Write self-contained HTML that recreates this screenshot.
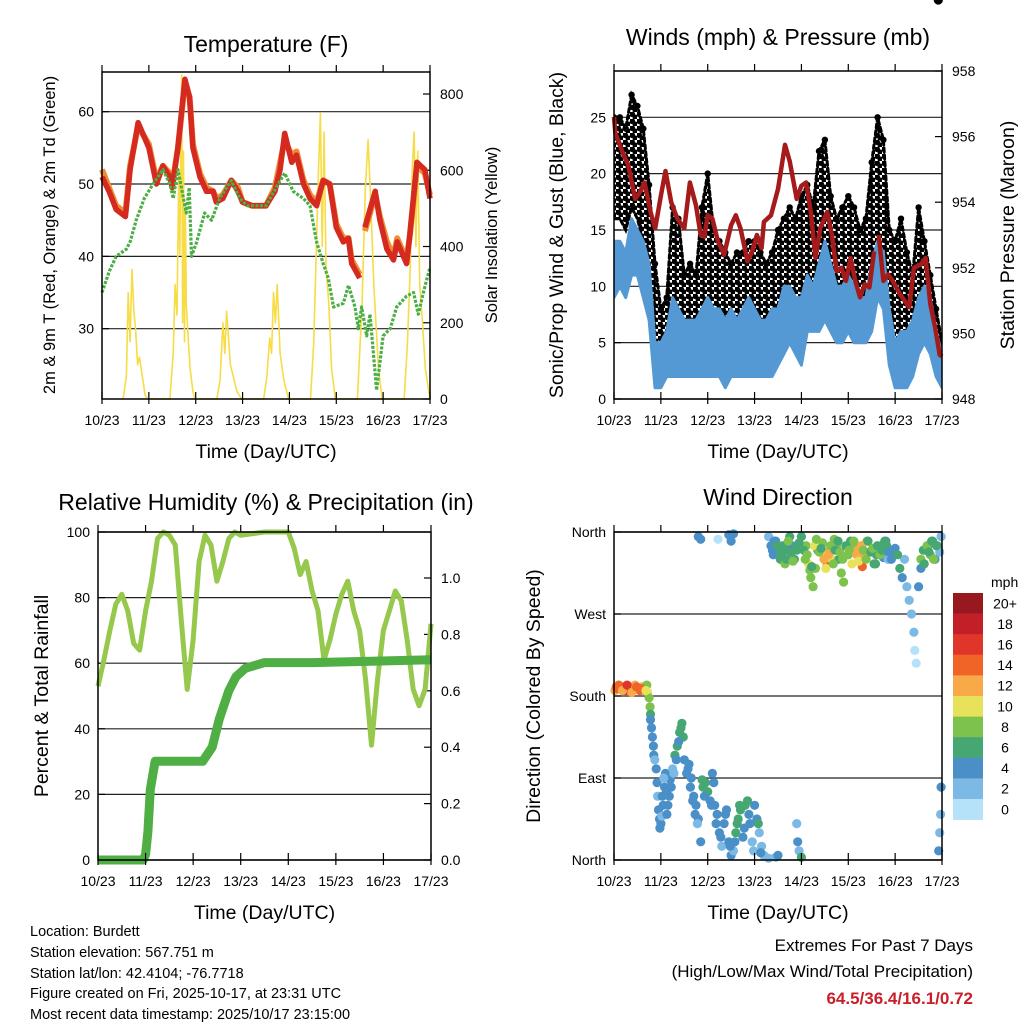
<!DOCTYPE html>
<html><head><meta charset="utf-8">
<style>
html,body{margin:0;padding:0;background:#fff;}
svg{display:block;font-family:"Liberation Sans",Arial,sans-serif;}
</style></head>
<body>
<svg id="root" width="1024" height="1024" viewBox="0 0 1024 1024" xmlns="http://www.w3.org/2000/svg">
<defs>
<pattern id="dots" x="0" y="0" width="7" height="7" patternUnits="userSpaceOnUse">
<rect x="0" y="0" width="7" height="7" fill="#fff"/>
<circle cx="2" cy="2" r="3" fill="#000"/>
<circle cx="5.5" cy="5.5" r="3" fill="#000"/>
</pattern>
<clipPath id="clip2"><rect x="614" y="71" width="328" height="328"/></clipPath>
</defs>
<rect width="1024" height="1024" fill="#fff"/>
<g id="g1"></g>
<g id="g2"></g>
<g id="g3"></g>
<g id="g4"></g>
<g font-size="14.5" fill="#000">
<text x="30" y="936">Location: Burdett</text>
<text x="30" y="957">Station elevation: 567.751 m</text>
<text x="30" y="978">Station lat/lon: 42.4104; -76.7718</text>
<text x="30" y="998">Figure created on Fri, 2025-10-17, at 23:31 UTC</text>
<text x="30" y="1019">Most recent data timestamp: 2025/10/17 23:15:00</text>
</g>
<g text-anchor="end" font-size="17">
<text x="973" y="951">Extremes For Past 7 Days</text>
<text x="973" y="977">(High/Low/Max Wind/Total Precipitation)</text>
<text x="973" y="1004" fill="#c8202a" font-weight="bold">64.5/36.4/16.1/0.72</text>
</g>
</svg>
<script>
// ---------- DATA ----------
const dayLabels = ["10/23","11/23","12/23","13/23","14/23","15/23","16/23","17/23"];
// Temperature 2m (red)
const tempT = [0,0.15,0.3,0.4,0.5,0.6,0.77,1.0,1.16,1.3,1.45,1.5,1.62,1.77,1.87,1.94,2.09,2.23,2.37,2.44,2.58,2.76,2.9,3.0,3.2,3.5,3.69,3.8,3.9,4.05,4.15,4.3,4.44,4.58,4.72,4.86,5.0,5.15,5.26,5.33,5.5,5.55,5.61,5.83,5.93,6.08,6.22,6.3,6.5,6.57,6.72,6.89,7.0];
const tempV = [51,49,46.5,46,45.5,52,58.5,55,50,52.5,51,49.5,55,64.5,62,55,51,49,49,47.5,48,50.5,49,47.5,47,47,49,52,57,53,54,50,48,47,50.5,50,44,42,42.5,39,37,null,44,49,45,41,39.5,42,39,43,53,52,48];
// Temperature 9m (orange)
const temp9V = [52,49.5,47,46.5,46,52.5,58,55.5,50.5,52.5,51.5,50,55,64,62,55.5,51.5,49.5,49,48,48.5,50.5,49.5,47.5,47,47,49.5,53,56,54,54.5,50.5,48.5,47.5,50.5,50,44.5,42.5,42.5,39.5,37.5,null,43.5,48.5,45.5,42,40,42.5,39.5,43,52.5,51.5,48.5];
// Dewpoint 2m (green)
const dewT = [0,0.16,0.3,0.52,0.6,0.73,0.9,1.09,1.3,1.45,1.52,1.62,1.8,1.86,1.91,2.02,2.19,2.34,2.51,2.76,2.94,3.1,3.5,3.76,3.9,4.08,4.3,4.44,4.58,4.72,4.83,4.94,5.15,5.26,5.4,5.47,5.54,5.65,5.72,5.86,6.0,6.15,6.29,6.5,6.65,6.75,6.86,7.0];
const dewV = [35,38,40,41,42,45,48,50,52,50,48,52,46,49.5,40,42,46,45,48,50.5,48,47,47,50,51.5,49,48,47,42,39,37,33,33.5,36,33,30,33,29,32,21.5,29,30,33,34.5,35,32,35,38.5];
// Solar insolation (yellow)
const solT = [0.45,0.52,0.56,0.6,0.64,0.68,0.72,0.76,0.8,0.86,0.92,0.98,1.45,1.52,1.56,1.6,1.64,1.66,1.7,1.72,1.74,1.76,1.78,1.8,1.84,1.88,1.94,1.98,2.45,2.52,2.58,2.62,2.66,2.7,2.74,2.8,2.88,2.98,3.45,3.52,3.58,3.62,3.66,3.7,3.74,3.8,3.88,3.98,4.45,4.52,4.58,4.62,4.66,4.7,4.74,4.78,4.84,4.9,4.98,5.45,5.55,5.62,5.68,5.74,5.8,5.9,5.98,6.45,6.52,6.58,6.62,6.66,6.7,6.74,6.78,6.84,6.9,7.0];
const solV = [0,60,280,150,340,230,180,90,110,60,10,0,0,120,300,220,600,380,850,200,650,150,500,250,160,80,20,0,0,50,200,120,230,160,90,60,20,0,0,60,160,120,280,200,300,120,50,0,0,150,420,600,750,400,700,350,250,80,0,0,250,550,680,500,300,80,0,0,150,350,600,700,400,650,300,200,80,0];
// Winds
const windT = [0,0.125,0.25,0.375,0.5,0.625,0.75,0.875,1.0,1.125,1.25,1.375,1.5,1.625,1.75,1.875,2.0,2.125,2.25,2.375,2.5,2.625,2.75,2.875,3.0,3.125,3.25,3.375,3.5,3.625,3.75,3.875,4.0,4.125,4.25,4.375,4.5,4.625,4.75,4.875,5.0,5.125,5.25,5.375,5.5,5.625,5.75,5.875,6.0,6.125,6.25,6.375,6.5,6.625,6.75,6.875,7.0];
const gustHi = [25,25,24,27,26,24,19,12,8,9,17,16,11,12,11,17,20,15,14,13,12,13,13,14,14,13,12,13,15,16,17,16,18,19,17,22,23,18,16,17,18,17,15,16,21,25,23,15,14,16,13,11,17,14,11,8,5];
const gustLo = [16,16,15,17,16,14,9,2,3,4,5,5,4,5,5,6,5,5,5,4,5,5,5,6,5,5,5,6,7,8,9,7,8,9,9,10,10,9,8,9,10,9,9,9,10,12,11,6,3,4,5,6,7,8,7,5,3];
const windHi = [14,14,13,16,15,14,12,5,5,6,9,8,7,7,7,8,9,8,8,7,8,7,8,9,8,7,7,8,8,10,10,9,9,11,10,12,14,12,10,10,11,10,9,9,12,14,13,8,5,6,6,7,9,10,9,6,4];
const windLo = [9,10,9,11,11,9,7,1,1,2,2,2,2,2,2,2,2,2,2,1,2,2,2,2,2,2,2,2,3,4,5,4,3,6,6,6,7,6,5,5,6,5,5,5,6,9,8,3,1,1,1,2,4,5,4,2,1];
// Pressure (maroon)
const presT = [0,0.03,0.2,0.3,0.45,0.55,0.65,0.78,0.88,1.0,1.1,1.22,1.35,1.5,1.62,1.75,1.85,1.93,2.0,2.1,2.22,2.35,2.5,2.6,2.7,2.85,2.95,3.05,3.15,3.2,3.35,3.5,3.65,3.75,3.9,4.0,4.1,4.2,4.3,4.4,4.55,4.65,4.75,4.85,4.95,5.05,5.15,5.25,5.35,5.45,5.55,5.6,5.65,5.75,5.85,5.95,6.1,6.3,6.4,6.55,6.65,6.75,6.85,6.95,7.0];
const presV = [956.6,956.1,955.45,955.15,954.1,954.3,954.6,953.7,953.2,954.2,954.95,954.0,953.5,953.2,954.6,953.9,953.0,952.95,953.6,953.5,952.8,952.4,953.3,953.6,953.2,952.2,952.5,953.0,952.6,953.4,953.6,954.4,955.75,955.25,954.1,954.5,954.6,953.7,952.3,953.2,953.7,953.0,951.9,952.0,951.6,952.3,951.6,951.1,951.5,951.4,952.5,null,953.0,951.6,951.8,951.6,951.2,950.8,952.0,952.1,952.3,950.9,950.2,949.35,949.3];
// Relative humidity (light green)
const rhT = [0,0.125,0.25,0.375,0.5,0.625,0.75,0.875,1.0,1.125,1.25,1.375,1.5,1.625,1.75,1.875,2.0,2.125,2.25,2.375,2.5,2.625,2.75,2.875,3.0,3.5,4.0,4.125,4.25,4.375,4.5,4.625,4.75,4.875,5.0,5.125,5.25,5.375,5.5,5.625,5.75,5.875,6.0,6.125,6.25,6.375,6.5,6.625,6.75,6.875,7.0];
const rhV = [53,61,70,78,81,76,66,64,76,85,98,100,99,96,73,52,67,91,99,96,85,91,98,100,99,100,100,95,87,91,82,76,61,67,75,81,85,76,70,55,35,55,70,76,82,79,67,52,47,52,72];
// Cumulative precipitation (dark green)
const prT = [0,0.5,0.95,1.0,1.05,1.1,1.2,2.2,2.4,2.55,2.75,2.9,3.1,3.5,4.5,7.0];
const prV = [0,0,0,0.02,0.1,0.25,0.35,0.35,0.4,0.5,0.6,0.65,0.68,0.70,0.70,0.71];
// Wind direction (deg) colored by speed (mph)
const dirDay = [0.02,0.05,0.1,0.15,0.2,0.25,0.3,0.35,0.4,0.45,0.5,0.55,0.6,0.65,0.7,0.72,0.75,0.77,0.78,0.78,0.8,0.82,0.84,0.85,0.87,0.9,0.92,0.93,0.95,0.97,1.0,1.02,1.05,1.08,1.1,1.12,1.15,1.2,1.25,1.3,1.35,1.4,1.45,1.48,1.5,1.55,1.6,1.65,1.7,1.75,1.8,1.85,1.9,1.95,2.0,2.05,2.1,2.15,2.2,2.25,2.3,2.35,2.4,2.45,2.5,2.55,2.6,2.65,2.7,2.75,2.8,2.85,2.9,2.95,3.0,3.05,3.1,3.15,3.2,3.3,3.45,3.9,3.92,3.95,4.0,
 1.8,1.85,2.22,2.45,2.5,2.55,3.3,3.35,3.4,3.45,3.5,3.55,3.6,3.65,3.7,3.75,3.8,3.85,3.9,4.0,4.1,4.15,4.2,4.25,4.3,4.35,4.45,4.5,4.55,4.6,4.65,4.7,4.75,4.8,4.85,4.9,5.0,5.05,5.15,5.2,5.25,5.3,5.35,5.4,5.5,5.55,5.6,5.7,5.75,5.8,5.85,6.2,6.25,6.3,6.35,6.4,6.42,6.45,6.5,6.55,6.6,6.7,6.75,6.8,6.85,6.9,6.95,6.98,6.98,6.97,6.95,6.93,
 0.08,0.18,0.28,0.38,0.48,0.58,0.68,0.98,1.03,1.06,1.13,1.18,1.22,1.28,1.33,1.38,1.43,1.58,1.63,1.68,1.73,1.78,1.88,1.93,2.08,2.13,2.18,2.28,2.38,2.48,2.58,2.63,2.68,2.78,2.88,2.98,3.08,3.13,3.5,3.42,3.38,3.48,3.58,3.68,3.72,3.78,3.82,3.88,3.95,4.05,4.08,4.12,4.18,4.22,4.28,4.32,4.38,4.42,4.48,4.52,4.58,4.62,4.68,4.72,4.78,4.82,4.88,4.95,5.02,5.08,5.12,5.18,5.22,5.28,5.32,5.38,5.42,5.48,5.52,5.58,5.62,5.68,5.72,5.78,5.82,5.88,5.92,6.0,6.05,6.1,6.15,6.55,6.62,6.68,6.72,6.78,6.82,6.88,6.92];
const dirDeg = [186,190,192,188,190,186,190,188,186,192,188,186,190,186,192,184,178,168,160,154,145,135,125,115,110,100,85,70,55,45,40,48,60,80,95,75,60,88,100,115,125,140,150,135,110,95,105,90,70,60,45,20,80,85,75,65,95,60,50,30,15,40,55,20,5,10,30,45,55,25,60,65,40,20,60,45,30,15,5,2,3,40,20,10,3,
 355,352,352,357,350,358,355,345,335,350,340,330,345,325,340,355,345,330,340,355,345,325,310,300,320,340,348,335,325,340,330,352,345,330,315,305,335,350,345,340,330,322,335,350,340,325,335,345,332,350,330,330,300,285,270,250,230,216,300,320,340,345,335,350,330,345,338,355,80,50,30,10,
 188,186,192,184,190,188,186,35,70,90,50,70,80,95,110,130,145,100,80,65,50,40,88,70,60,85,40,25,50,15,20,40,60,35,50,10,40,8,5,350,340,345,335,330,350,338,328,342,348,340,330,335,318,322,345,352,338,342,330,320,335,345,325,340,350,338,330,345,340,325,350,335,328,345,340,330,350,338,342,325,345,335,340,350,345,338,330,342,335,320,310,330,325,345,338,350,330,345];
const dirSpd = [12,14,14,12,14,16,14,16,14,12,14,14,12,14,8,10,8,8,6,4,4,4,4,4,2,4,4,2,4,4,4,2,4,4,4,4,4,4,2,6,6,6,6,6,4,4,4,4,4,4,4,4,6,6,6,4,4,4,4,4,2,4,4,4,4,2,6,6,6,4,6,6,4,2,4,4,2,2,2,2,2,2,4,2,6,
 4,4,0,4,4,4,2,4,4,4,6,6,6,8,6,6,4,6,6,6,8,10,8,8,8,6,8,10,14,12,10,8,8,6,8,8,8,6,8,12,10,14,12,8,6,6,6,6,4,4,2,2,2,2,2,2,0,0,4,4,6,6,8,6,4,6,2,2,4,2,2,4,
 14,12,16,12,14,14,10,4,4,2,4,4,4,2,4,4,6,4,4,4,4,2,6,4,4,4,4,4,4,4,4,6,6,4,4,2,6,4,4,4,4,6,6,6,8,6,8,6,6,6,8,8,8,6,10,8,8,6,12,10,12,8,8,6,6,8,8,6,8,10,8,12,10,12,8,8,6,6,8,6,6,8,6,6,6,4,4,4,6,6,4,8,6,8,6,6,8,6];
const speedColors = ["#b5e2f8","#7cb9e4","#4a8fc8","#47a772","#7cc24c","#e8e15a","#f8aa48","#f06428","#e0362a","#c21f29","#98181f"];
const speedLabels = ["0","2","4","6","8","10","12","14","16","18","20+"];

// ---------- HELPERS ----------
const NS = "http://www.w3.org/2000/svg";
function mk(parent, tag, attrs, txt){
  const e = document.createElementNS(NS, tag);
  for (const k in attrs) e.setAttribute(k, attrs[k]);
  if (txt !== undefined) e.textContent = txt;
  parent.appendChild(e);
  return e;
}
function lin(d0,d1,r0,r1){ return v => r0 + (v-d0)/(d1-d0)*(r1-r0); }
function pathFrom(ts, vs, sx, sy){
  let d = "", pen = false;
  for (let i=0;i<ts.length;i++){
    if (vs[i]===null || vs[i]===undefined){ pen=false; continue; }
    d += (pen?"L":"M") + sx(ts[i]).toFixed(1) + "," + sy(vs[i]).toFixed(1);
    pen = true;
  }
  return d;
}
function frame(g, L, T, R, B, sx){
  const axes = mk(g,"g",{});
  
  
  mk(axes,"rect",{x:L,y:T,width:R-L,height:B-T,fill:"none",stroke:"#000","stroke-width":1.5});
  for (let i=0;i<8;i++){
    const x = sx(i);
    mk(axes,"line",{x1:x,y1:B,x2:x,y2:B-7,stroke:"#000","stroke-width":1.2});
    mk(axes,"line",{x1:x,y1:T,x2:x,y2:T-7,stroke:"#000","stroke-width":1.2});
    mk(axes,"line",{x1:x,y1:B,x2:x,y2:B+5,stroke:"#000","stroke-width":1.2});
    const t = mk(g,"text",{x:x,y:B+26,"text-anchor":"middle","font-size":14}, dayLabels[i]);
    
    
  }
  const xt = mk(g,"text",{x:(L+R)/2,y:B+59,"text-anchor":"middle","font-size":19.5},"Time (Day/UTC)");
  
  
}
function yTicks(g, vals, sy, x, side, labels, grid, L, R){
  vals.forEach((v,i)=>{
    const y = sy(v);
    if (grid) mk(g,"line",{x1:L,y1:y,x2:R,y2:y,stroke:"#222","stroke-width":1.2});
    const dx = side==="left" ? 7 : -7;
    mk(g,"line",{x1:x,y1:y,x2:x+dx,y2:y,stroke:"#000","stroke-width":1.2});
    const t = mk(g,"text",{x: side==="left"? x-8 : x+10, y:y+5, "text-anchor": side==="left"?"end":"start","font-size":14}, labels[i]);
    
    
  });
}
function title(g, x, y, s){
  const t = mk(g,"text",{x:x,y:y,"text-anchor":"middle","font-size":23}, s);
  
  
}
function vtitle(g, x, y, s, fs, name){
  const t = mk(g,"text",{x:0,y:0,"text-anchor":"middle","font-size":fs,transform:`translate(${x},${y}) rotate(-90)`}, s);
  
  
}

// ---------- PANEL 1: Temperature ----------
(function(){
  const g = document.getElementById("g1");
  const L=102,R=430,T=72,B=399;
  const sx = lin(0,7,L,R);
  const sy = lin(30,60,328.7,111.7);
  const sy2 = lin(0,800,399,94);
  title(g,266,52,"Temperature (F)");
  yTicks(g,[30,40,50,60],sy,L,"left",["30","40","50","60"],true,L,R);
  yTicks(g,[0,200,400,600,800],sy2,R,"right",["0","200","400","600","800"],false,L,R);
  const sol = mk(g,"path",{d:pathFrom(solT,solV,sx,sy2),fill:"none",stroke:"#f7dc45","stroke-width":1.6,"stroke-linejoin":"round"});
  
  
  const o = mk(g,"path",{d:pathFrom(tempT,temp9V,sx,sy),fill:"none",stroke:"#f08c32","stroke-width":6,"stroke-linejoin":"round"});
  
  
  const r = mk(g,"path",{d:pathFrom(tempT,tempV,sx,sy),fill:"none",stroke:"#d52a20","stroke-width":5.5,"stroke-linejoin":"round"});
  
  
  const d = mk(g,"path",{d:pathFrom(dewT,dewV,sx,sy),fill:"none",stroke:"#4cae45","stroke-width":3.2,"stroke-dasharray":"3,1.5","stroke-linejoin":"round"});
  
  
  frame(g,L,T,R,B,sx);
  vtitle(g,55,235,"2m & 9m T (Red, Orange) & 2m Td (Green)",16.5,'y-axis-title');
  vtitle(g,497,235,"Solar Insolation (Yellow)",16.5,'y2-axis-title');
})();

// ---------- PANEL 2: Winds & Pressure ----------
(function(){
  const g = document.getElementById("g2");
  const L=614,R=942,T=71,B=399;
  const sx = lin(0,7,L,R);
  const sy = lin(0,25,399,117.3);
  const sy2 = lin(948,958,399,71);
  title(g,778,45,"Winds (mph) & Pressure (mb)");
  yTicks(g,[0,5,10,15,20,25],sy,L,"left",["0","5","10","15","20","25"],true,L,R);
  yTicks(g,[948,950,952,954,956,958],sy2,R,"right",["948","950","952","954","956","958"],false,L,R);
  const gb = mk(g,"g",{"clip-path":"url(#clip2)"});
  
  
  let d="";
  windT.forEach((t,i)=>{ d += (i?"L":"M")+sx(t).toFixed(1)+","+sy(gustHi[i]).toFixed(1); });
  for (let i=windT.length-1;i>=0;i--) d += "L"+sx(windT[i]).toFixed(1)+","+sy(gustLo[i]).toFixed(1);
  mk(gb,"path",{d:d+"Z",fill:"url(#dots)",stroke:"#000","stroke-width":3,"stroke-dasharray":"4,3","stroke-linecap":"round"});
  windT.forEach((t,i)=>{
    if (gustHi[i]===undefined) return;
    mk(gb,"circle",{cx:sx(t).toFixed(1),cy:sy(gustHi[i]).toFixed(1),r:3.2,fill:"#000"});
  });
  let w="";
  windT.forEach((t,i)=>{ w += (i?"L":"M")+sx(t).toFixed(1)+","+sy(windHi[i]).toFixed(1); });
  for (let i=windT.length-1;i>=0;i--) w += "L"+sx(windT[i]).toFixed(1)+","+sy(windLo[i]).toFixed(1);
  const wb = mk(g,"path",{d:w+"Z",fill:"#5499d3",stroke:"#5499d3","stroke-width":3,"stroke-linejoin":"round","clip-path":"url(#clip2)"});
  
  
  const p = mk(g,"path",{d:pathFrom(presT,presV,sx,sy2),fill:"none",stroke:"#a51b1b","stroke-width":4.5,"stroke-linejoin":"round"});
  
  
  frame(g,L,T,R,B,sx);
  vtitle(g,563,235,"Sonic/Prop Wind & Gust (Blue, Black)",19.5,'y-axis-title');
  vtitle(g,1014,235,"Station Pressure (Maroon)",19.5,'y2-axis-title');
})();

// ---------- PANEL 3: RH & Precip ----------
(function(){
  const g = document.getElementById("g3");
  const L=98,R=431,T=532,B=860;
  const sx = lin(0,7,L,R);
  const sy = lin(0,100,860,532);
  const sy2 = lin(0,1.0,860,578);
  title(g,266,510,"Relative Humidity (%) & Precipitation (in)");
  yTicks(g,[0,20,40,60,80,100],sy,L,"left",["0","20","40","60","80","100"],true,L,R);
  yTicks(g,[0,0.2,0.4,0.6,0.8,1.0],sy2,R,"right",["0.0","0.2","0.4","0.6","0.8","1.0"],false,L,R);
  const rh = mk(g,"path",{d:pathFrom(rhT,rhV,sx,sy),fill:"none",stroke:"#95c84c","stroke-width":5,"stroke-linejoin":"round"});
  
  
  const pr = mk(g,"path",{d:pathFrom(prT,prV,sx,sy2),fill:"none",stroke:"#4fae44","stroke-width":9,"stroke-linejoin":"round"});
  
  
  frame(g,L,T,R,B,sx);
  vtitle(g,48,696,"Percent & Total Rainfall",19.5,'y-axis-title');
})();

// ---------- PANEL 4: Wind direction ----------
(function(){
  const g = document.getElementById("g4");
  const L=614,R=942,T=532,B=860;
  const sx = lin(0,7,L,R);
  const sy = lin(0,360,860,532);
  title(g,778,505,"Wind Direction");
  yTicks(g,[0,90,180,270,360],sy,L,"left",["North","East","South","West","North"],true,L,R);
  const pts = mk(g,"g",{});
  
  
  dirDay.forEach((t,i)=>{
    const bin = Math.min(10, Math.floor(dirSpd[i]/2));
    const c = mk(pts,"circle",{cx:sx(t).toFixed(1),cy:sy(dirDeg[i]).toFixed(1),r:4.6,fill:speedColors[bin]});
    
    
  });
  frame(g,L,T,R,B,sx);
  vtitle(g,540,696,"Direction (Colored By Speed)",19.5,'y-axis-title');
  // legend
  const lg = mk(g,"g",{});
  
  
  const lt = mk(lg,"text",{x:991,y:587,"font-size":14},"mph");
  
  
  const bh = 20.6, top = 593;
  for (let k=10;k>=0;k--){
    const y = top + (10-k)*bh;
    const rct = mk(lg,"rect",{x:953,y:y,width:30,height:bh+0.3,fill:speedColors[k]});
    
    
    const tx = mk(lg,"text",{x:1005,y:y+bh/2+5,"text-anchor":"middle","font-size":14},speedLabels[k]);
    
    
  }
})();
</script>
</body></html>
